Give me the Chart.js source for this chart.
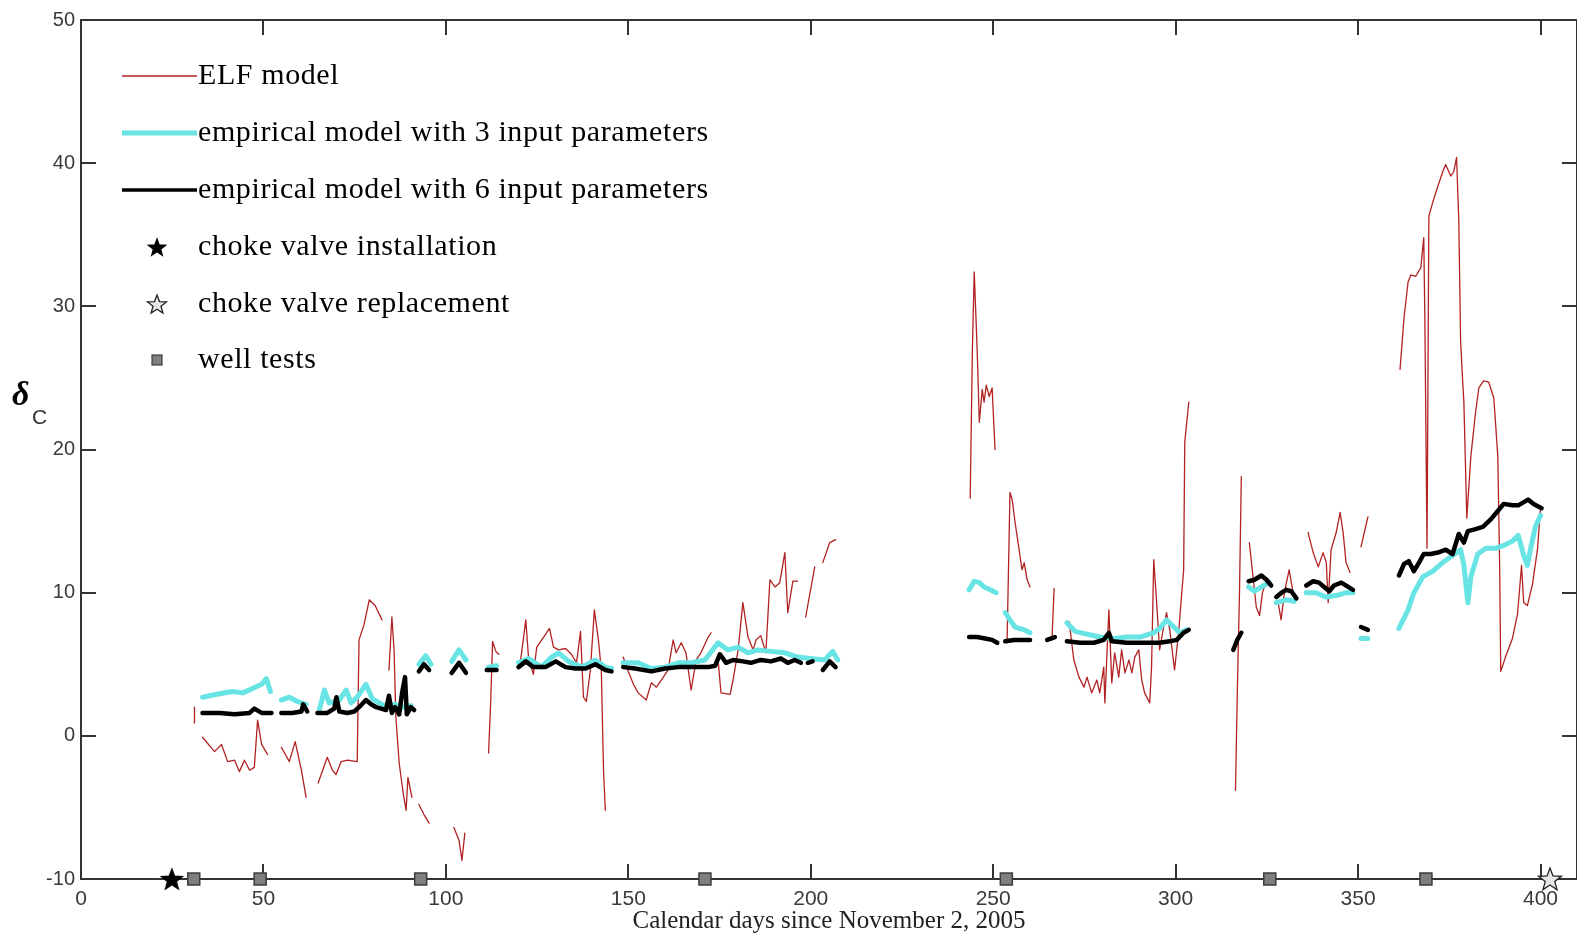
<!DOCTYPE html>
<html>
<head>
<meta charset="utf-8">
<script src="https://cdn.jsdelivr.net/npm/chart.js@4.4.0/dist/chart.umd.min.js"></script>
<style>
  html, body { margin: 0; padding: 0; background: #fff; overflow: hidden; }
  #wrap { width: 1577px; height: 936px; overflow: hidden; }
  canvas { display: block; }
</style>
</head>
<body>
<div id="wrap"><canvas id="deltaChart" width="1590" height="936"></canvas></div>
<script>
// Axis ticks
const xTickValues = [0, 50, 100, 150, 200, 250, 300, 350, 400];
const yTickValues = [-10, 0, 10, 20, 30, 40, 50];

// [day, delta_C]; null breaks the line where there is no data
const elfModel = [
  [31.0, 0.9], [31.1, 2.0], null,
  [33.3, -0.1], [36.6, -1.1], [38.5, -0.6], [40.2, -1.8], [42.1, -1.7], [43.4, -2.5], [44.8, -1.7], [46.2, -2.4],
  [47.5, -2.2], [48.4, 1.1], [49.5, -0.6], [51.1, -1.3], null,
  [54.9, -0.8], [57.1, -1.8], [58.7, -0.4], [60.4, -2.4], [61.7, -4.3], null,
  [65.0, -3.3], [67.5, -1.5], [68.9, -2.4], [69.9, -2.7], [71.3, -1.8], [73.0, -1.7], [75.7, -1.8], [76.2, 6.7],
  [77.6, 7.8], [79.0, 9.5], [80.6, 9.1], [82.5, 8.1], null,
  [84.4, 4.6], [85.2, 8.3], [85.8, 6.0], [86.3, 1.3], [87.2, -1.9], [88.3, -4.0], [89.1, -5.2], [89.6, -2.9], [90.7, -4.3], null,
  [92.6, -4.8], [94.0, -5.5], [95.4, -6.1], null,
  [102.2, -6.4], [103.6, -7.3], [104.4, -8.7], [105.2, -6.8], null,
  [111.7, -1.2], [112.3, 2.5], [112.8, 6.6], [113.7, 5.9], [114.5, 5.7], null,
  [120.5, 5.3], [121.9, 8.1], [122.7, 5.3], [124.0, 4.3], [124.9, 6.2], [126.8, 6.9], [128.4, 7.5], [129.5, 6.2],
  [130.9, 6.0], [132.8, 6.1], [134.4, 5.7], [135.8, 5.1], [136.9, 7.3], [137.7, 2.7], [138.5, 2.4], [139.6, 4.6],
  [140.7, 8.8], [141.8, 6.7], [142.6, 4.6], [143.2, -2.4], [143.7, -5.2], null,
  [148.6, 5.5], [150.0, 4.5], [151.4, 3.6], [152.7, 3.0], [154.9, 2.5], [156.3, 3.7], [157.7, 3.4], [159.6, 4.1],
  [160.9, 4.6], [162.3, 6.7], [163.1, 5.8], [164.5, 6.5], [165.8, 5.8], [167.2, 3.2], [168.6, 5.3], [169.9, 5.8],
  [171.9, 6.9], [172.7, 7.2], null,
  [174.6, 5.3], [175.4, 3.0], [177.9, 2.9], [178.7, 3.9], [180.1, 6.0], [181.4, 9.3], [182.8, 6.9], [184.2, 6.0],
  [185.0, 6.7], [186.3, 7.0], [187.7, 5.8], [188.8, 10.9], [190.2, 10.4], [191.5, 10.7], [192.9, 12.8], [193.7, 8.6],
  [195.1, 10.8], [196.4, 10.8], null,
  [198.6, 8.3], [201.1, 11.8], null,
  [203.3, 12.1], [205.2, 13.5], [206.8, 13.7], null,
  [243.7, 16.6], [244.3, 27.0], [244.8, 32.4], [245.1, 30.4], [245.6, 27.0], [246.2, 21.9], [247.0, 24.2],
  [247.5, 23.3], [248.1, 24.5], [248.9, 23.7], [249.7, 24.3], [250.5, 20.0], null,
  [253.8, 6.5], [254.6, 17.0], [255.2, 16.5], [256.0, 14.9], [257.1, 13.0], [257.9, 11.6], [258.5, 12.1],
  [259.3, 10.9], [260.1, 10.4], null,
  [266.1, 6.7], [266.7, 10.3], null,
  [270.8, 8.0], [272.1, 5.3], [273.5, 4.1], [274.9, 3.4], [275.7, 4.1], [277.0, 3.0], [278.4, 3.9], [279.2, 3.0],
  [280.3, 4.8], [280.6, 2.3], [281.7, 8.8], [282.5, 3.7], [283.3, 5.8], [284.4, 4.1], [285.2, 6.0], [286.1, 4.4],
  [287.2, 5.3], [288.0, 4.4], [288.8, 5.5], [289.9, 6.0], [290.7, 3.9], [291.5, 3.0], [292.9, 2.3], [293.4, 4.8],
  [294.0, 12.3], [294.8, 9.3], [295.6, 6.0], [296.7, 7.6], [297.5, 8.6], [298.4, 7.4], [299.7, 4.6], [300.8, 7.2],
  [302.2, 11.6], [302.5, 20.5], [303.6, 23.3], null,
  [316.4, -3.8], [316.9, 3.0], [317.5, 10.0], [318.0, 18.1], null,
  [320.2, 13.5], [321.3, 10.9], [322.1, 9.0], [323.0, 8.4], [323.8, 10.0], [324.3, 10.4], null,
  [328.1, 9.3], [328.9, 8.1], [329.8, 10.0], [331.1, 11.6], [332.2, 10.0], null,
  [336.3, 14.2], [337.7, 12.8], [339.1, 11.8], [340.4, 12.8], [341.3, 12.1], [341.8, 9.3], [342.6, 13.0],
  [344.0, 14.2], [345.1, 15.6], [345.9, 14.2], [346.7, 12.1], [347.8, 11.4], null,
  [350.8, 13.2], [352.7, 15.3], null,
  [361.5, 25.6], [362.6, 29.2], [363.7, 31.7], [364.5, 32.2], [365.8, 32.1], [367.2, 32.7], [368.0, 34.8],
  [368.3, 29.2], [368.9, 13.1], [369.4, 36.3], [370.5, 37.3], [371.9, 38.4], [373.2, 39.4], [374.0, 39.9],
  [375.4, 39.1], [376.2, 39.4], [377.0, 40.4], [377.6, 36.0], [378.1, 27.6], [378.7, 24.6], [379.0, 23.3],
  [379.8, 15.2], [380.9, 19.5], [382.2, 22.6], [383.1, 24.3], [384.4, 24.8], [385.8, 24.7], [387.2, 23.6],
  [388.3, 19.5], [388.8, 11.9], [389.1, 4.5], [390.4, 5.5], [392.3, 6.8], [393.7, 8.5], [394.8, 11.9],
  [395.4, 9.3], [396.4, 9.1], [397.8, 10.6], [399.2, 13.1], [400.0, 15.9]
];

const empirical3 = [
  [33.3, 2.7], [37.2, 2.9], [41.5, 3.1], [44.3, 3.0], [47.0, 3.3], [49.5, 3.6], [50.8, 4.0], [51.9, 3.1], null,
  [54.9, 2.5], [57.1, 2.7], [59.3, 2.4], [61.7, 2.2], null,
  [65.3, 1.8], [66.7, 3.2], [68.0, 2.3], [70.8, 2.5], [72.7, 3.2], [74.0, 2.3], [75.7, 2.7], [78.1, 3.6],
  [79.8, 2.6], [81.7, 2.3], [83.9, 2.0], [86.0, 2.2], [88.0, 2.0], [90.5, 2.1], null,
  [92.6, 5.0], [94.5, 5.6], [95.9, 5.0], null,
  [101.6, 5.2], [103.6, 6.0], [105.5, 5.3], null,
  [111.7, 4.8], [113.9, 4.9], null,
  [119.9, 5.1], [122.7, 5.4], [126.2, 4.8], [129.0, 5.5], [130.9, 5.8], [133.6, 5.2], [137.2, 4.8], [141.0, 5.3],
  [143.7, 4.8], [145.4, 4.7], null,
  [148.6, 5.1], [152.7, 5.1], [156.3, 4.7], [160.1, 4.8], [163.7, 5.1], [167.2, 5.1], [171.0, 5.3], [174.6, 6.5],
  [177.3, 6.0], [180.1, 6.2], [182.8, 5.8], [185.5, 6.0], [189.1, 5.9], [192.9, 5.8], [196.4, 5.5], [200.0, 5.4],
  [203.8, 5.3], [206.0, 5.9], [207.4, 5.3], null,
  [243.4, 10.2], [244.8, 10.8], [246.2, 10.7], [247.5, 10.4], [249.2, 10.2], [250.8, 10.0], null,
  [253.3, 8.6], [254.6, 8.1], [256.0, 7.6], [258.5, 7.4], [260.1, 7.2], null,
  [270.2, 7.9], [272.4, 7.3], [275.7, 7.1], [279.2, 6.9], [283.1, 6.8], [286.6, 6.9], [290.2, 6.9], [294.0, 7.2],
  [295.6, 7.5], [297.5, 8.1], [299.5, 7.6], [301.1, 7.2], [303.0, 7.4], null,
  [320.0, 10.4], [321.6, 10.1], [323.5, 10.4], [325.6, 10.7], null,
  [327.6, 9.3], [330.3, 9.5], [332.5, 9.4], null,
  [335.8, 10.0], [338.5, 10.0], [341.1, 9.7], [344.0, 9.8], [346.7, 10.0], [348.6, 10.0], null,
  [350.8, 6.8], [352.7, 6.8], null,
  [361.2, 7.5], [363.7, 8.8], [365.3, 10.0], [367.7, 11.1], [370.5, 11.5], [373.2, 12.1], [375.9, 12.6],
  [378.1, 13.0], [379.0, 11.9], [380.1, 9.3], [380.9, 11.1], [382.8, 12.7], [385.0, 13.1], [387.7, 13.1],
  [389.9, 13.3], [392.3, 13.6], [393.9, 14.0], [395.4, 12.6], [396.4, 11.9], [397.3, 13.1], [398.6, 14.6], [400.0, 15.4]
];

const empirical6 = [
  [33.3, 1.6], [38.0, 1.6], [42.1, 1.5], [46.2, 1.6], [47.5, 1.9], [49.5, 1.6], [52.2, 1.6], null,
  [54.9, 1.6], [57.9, 1.6], [60.4, 1.7], [60.9, 2.2], [62.0, 1.7], null,
  [64.8, 1.6], [67.5, 1.6], [69.4, 1.9], [70.0, 2.7], [70.8, 1.7], [73.0, 1.6], [74.9, 1.7], [76.2, 2.0],
  [78.1, 2.5], [79.5, 2.2], [80.9, 2.0], [83.6, 1.8], [84.4, 2.8], [85.2, 1.6], [86.1, 2.0], [87.2, 1.5],
  [88.0, 3.0], [88.8, 4.1], [89.3, 1.5], [90.4, 2.0], [91.3, 1.8], null,
  [92.6, 4.5], [94.0, 5.0], [95.4, 4.6], null,
  [101.6, 4.4], [103.6, 5.1], [105.5, 4.4], null,
  [111.2, 4.6], [113.9, 4.6], null,
  [119.9, 4.8], [121.9, 5.2], [124.0, 4.8], [127.3, 4.8], [130.1, 5.2], [132.8, 4.8], [135.5, 4.7], [138.3, 4.7],
  [141.0, 5.0], [143.7, 4.6], [145.4, 4.5], null,
  [148.6, 4.8], [151.9, 4.7], [156.3, 4.5], [160.1, 4.7], [163.7, 4.8], [167.2, 4.8], [171.9, 4.8], [173.8, 4.9],
  [175.1, 5.7], [176.8, 5.1], [178.7, 5.3], [181.4, 5.2], [183.6, 5.1], [186.3, 5.3], [189.1, 5.2], [191.8, 5.4],
  [193.7, 5.1], [195.6, 5.3], [197.3, 5.1], null,
  [199.2, 5.1], [200.5, 5.2], null,
  [203.3, 4.6], [205.2, 5.2], [206.8, 4.8], null,
  [243.4, 6.9], [245.6, 6.9], [247.8, 6.8], [249.7, 6.7], [251.1, 6.5], null,
  [253.3, 6.6], [255.7, 6.7], [257.9, 6.7], [260.1, 6.7], null,
  [264.8, 6.7], [266.9, 6.9], null,
  [270.2, 6.6], [273.8, 6.5], [277.6, 6.5], [280.3, 6.7], [281.7, 7.2], [282.5, 6.6], [286.6, 6.5], [291.3, 6.5],
  [295.6, 6.5], [298.4, 6.6], [300.3, 6.7], [302.2, 7.2], [303.6, 7.4], null,
  [315.8, 6.0], [316.9, 6.7], [318.0, 7.2], null,
  [320.0, 10.8], [321.6, 10.9], [323.5, 11.2], [324.9, 10.9], [326.2, 10.5], null,
  [327.6, 9.7], [329.0, 10.0], [330.3, 10.2], [331.7, 10.1], [333.1, 9.6], null,
  [335.8, 10.5], [337.7, 10.8], [339.3, 10.7], [340.7, 10.4], [342.1, 10.1], [343.4, 10.5], [345.4, 10.7],
  [347.3, 10.4], [348.6, 10.2], null,
  [350.8, 7.6], [352.7, 7.4], null,
  [361.2, 11.2], [362.6, 12.0], [363.9, 12.2], [365.3, 11.5], [366.7, 12.1], [368.0, 12.7], [369.9, 12.7],
  [371.9, 12.8], [374.0, 13.0], [375.9, 12.7], [377.6, 14.1], [379.0, 13.5], [380.1, 14.3], [381.7, 14.4],
  [384.2, 14.6], [386.3, 15.1], [388.3, 15.7], [389.9, 16.2], [392.3, 16.1], [393.9, 16.1], [396.6, 16.5],
  [398.1, 16.2], [400.3, 15.9]
];

// Events drawn along the bottom axis (y = -10)
const chokeInstallDays = [24.9];
const chokeReplaceDays = [402.6];
const wellTestDays = [30.9, 49.1, 93.1, 171.0, 253.6, 325.8, 368.6];
const eventLevel = -10;

const legendLabels = [
  'ELF model',
  'empirical model with 3 input parameters',
  'empirical model with 6 input parameters',
  'choke valve installation',
  'choke valve replacement',
  'well tests'
];

const RED = 'rgb(178, 34, 34)';
const CYAN = 'rgb(105, 228, 228)';
const BLACK = '#000';

function toPoints(pairs) {
  let lastX = 0;
  return pairs.map(p => {
    if (p === null) return { x: lastX, y: null };
    lastX = p[0];
    return { x: p[0], y: p[1] };
  });
}

function tracePath(g, cx, cy, outer, inner) {
  g.beginPath();
  for (let i = 0; i < 10; i++) {
    const r = i % 2 === 0 ? outer : inner;
    const a = -Math.PI / 2 + i * Math.PI / 5;
    const px = cx + r * Math.cos(a), py = cy + r * Math.sin(a);
    if (i === 0) g.moveTo(px, py); else g.lineTo(px, py);
  }
  g.closePath();
}

function starImage(outer, fill, stroke) {
  const size = Math.ceil(outer * 2 + 4);
  const c = document.createElement('canvas');
  c.width = c.height = size;
  const g = c.getContext('2d');
  tracePath(g, size / 2, size / 2 + 1, outer, outer * 0.42);
  g.fillStyle = fill;
  g.fill();
  g.lineWidth = 1.3;
  g.strokeStyle = stroke;
  g.stroke();
  return c;
}

const filledStar = starImage(11, '#000', '#000');
const openStar = starImage(12, '#e6e6e6', '#222');

// Matlab-like box with inward tick marks, plus the legend and the y label
const framePlugin = {
  id: 'frameTicks',
  beforeDatasetsDraw(chart) {
    const { ctx, chartArea: a, scales: { x, y } } = chart;
    const tl = 15;
    ctx.save();
    ctx.strokeStyle = '#333';
    ctx.lineWidth = 2;
    ctx.strokeRect(a.left, a.top, a.right - a.left, a.bottom - a.top);
    ctx.beginPath();
    x.ticks.forEach(t => {
      const px = Math.round(x.getPixelForValue(t.value));
      ctx.moveTo(px, a.bottom); ctx.lineTo(px, a.bottom - tl);
      ctx.moveTo(px, a.top); ctx.lineTo(px, a.top + tl);
    });
    y.ticks.forEach(t => {
      const py = Math.round(y.getPixelForValue(t.value));
      ctx.moveTo(a.left, py); ctx.lineTo(a.left + tl, py);
      ctx.moveTo(a.right, py); ctx.lineTo(a.right - tl, py);
    });
    ctx.stroke();
    ctx.restore();
  },
  afterDraw(chart) {
    const ctx = chart.ctx;
    ctx.save();

    // y axis label: delta with subscript C
    ctx.fillStyle = '#000';
    ctx.textBaseline = 'alphabetic';
    ctx.font = 'italic bold 34px "Liberation Serif"';
    ctx.fillText('\u03B4', 12, 405);
    ctx.fillStyle = '#333';
    ctx.font = '21px "Liberation Sans"';
    ctx.fillText('C', 32, 424);

    // legend
    const rows = [76, 133, 190, 247, 304, 360];
    const lineX0 = 122, lineX1 = 197, markX = 157, textX = 198;
    ctx.lineCap = 'butt';
    ctx.strokeStyle = RED; ctx.lineWidth = 1.3;
    ctx.beginPath(); ctx.moveTo(lineX0, rows[0]); ctx.lineTo(lineX1, rows[0]); ctx.stroke();
    ctx.strokeStyle = CYAN; ctx.lineWidth = 5;
    ctx.beginPath(); ctx.moveTo(lineX0, rows[1]); ctx.lineTo(lineX1, rows[1]); ctx.stroke();
    ctx.strokeStyle = BLACK; ctx.lineWidth = 3.5;
    ctx.beginPath(); ctx.moveTo(lineX0, rows[2]); ctx.lineTo(lineX1, rows[2]); ctx.stroke();

    const legendStar = starImage(9, '#000', '#000');
    const legendOpen = starImage(10, '#e6e6e6', '#222');
    ctx.drawImage(legendStar, markX - legendStar.width / 2, rows[3] - legendStar.height / 2);
    ctx.drawImage(legendOpen, markX - legendOpen.width / 2, rows[4] - legendOpen.height / 2);
    ctx.fillStyle = '#7f7f7f';
    ctx.fillRect(markX - 5, rows[5] - 5, 10, 10);
    ctx.strokeStyle = '#3c3c3c'; ctx.lineWidth = 1.2;
    ctx.strokeRect(markX - 5, rows[5] - 5, 10, 10);

    ctx.fillStyle = '#000';
    ctx.font = '30px "Liberation Serif"';
    ctx.letterSpacing = '0.6px';
    ctx.textBaseline = 'middle';
    legendLabels.forEach((label, i) => ctx.fillText(label, textX, rows[i]));
    ctx.restore();
  }
};

const lineDefaults = { showLine: true, pointRadius: 0, spanGaps: false, tension: 0 };

new Chart(document.getElementById('deltaChart'), {
  type: 'scatter',
  data: {
    datasets: [
      {
        label: legendLabels[3],
        data: chokeInstallDays.map(d => ({ x: d, y: eventLevel })),
        pointStyle: filledStar, pointRadius: 11, showLine: false, clip: false, order: 0
      },
      {
        label: legendLabels[4],
        data: chokeReplaceDays.map(d => ({ x: d, y: eventLevel })),
        pointStyle: openStar, pointRadius: 12, showLine: false, clip: false, order: 0
      },
      {
        label: legendLabels[5],
        data: wellTestDays.map(d => ({ x: d, y: eventLevel })),
        pointStyle: 'rect', pointRadius: 8.5, backgroundColor: '#7f7f7f',
        borderColor: '#3c3c3c', borderWidth: 1.5, showLine: false, clip: false, order: 0
      },
      Object.assign({
        label: legendLabels[2], data: toPoints(empirical6),
        borderColor: BLACK, borderWidth: 4.5, order: 1
      }, lineDefaults),
      Object.assign({
        label: legendLabels[1], data: toPoints(empirical3),
        borderColor: CYAN, borderWidth: 5, order: 2
      }, lineDefaults),
      Object.assign({
        label: legendLabels[0], data: toPoints(elfModel),
        borderColor: RED, borderWidth: 1.3, order: 3
      }, lineDefaults)
    ]
  },
  options: {
    responsive: false,
    animation: false,
    layout: { padding: { top: 20, right: 8, left: 0, bottom: 0 } },
    plugins: { legend: { display: false }, tooltip: { enabled: false } },
    elements: { line: { borderJoinStyle: 'round', borderCapStyle: 'round' } },
    scales: {
      x: {
        type: 'linear', min: 0, max: 410,
        grid: { display: false, drawTicks: false },
        border: { display: false },
        afterBuildTicks: s => { s.ticks = xTickValues.map(v => ({ value: v })); },
        afterFit: s => { s.height = 57; },
        ticks: {
          padding: 8, color: '#3a3a3a', maxRotation: 0,
          font: { family: 'Liberation Sans', size: 21 }
        },
        title: {
          display: true, text: 'Calendar days since November 2, 2005', color: '#222',
          font: { family: 'Liberation Serif', size: 25 }, padding: { top: 0, bottom: 0 }
        }
      },
      y: {
        type: 'linear', min: -10, max: 50,
        grid: { display: false, drawTicks: false },
        border: { display: false },
        afterBuildTicks: s => { s.ticks = yTickValues.map(v => ({ value: v })); },
        afterFit: s => { s.width = 81; },
        ticks: {
          padding: 6, color: '#3a3a3a',
          font: { family: 'Liberation Sans', size: 20 }
        }
      }
    }
  },
  plugins: [framePlugin]
});
</script>
</body>
</html>
